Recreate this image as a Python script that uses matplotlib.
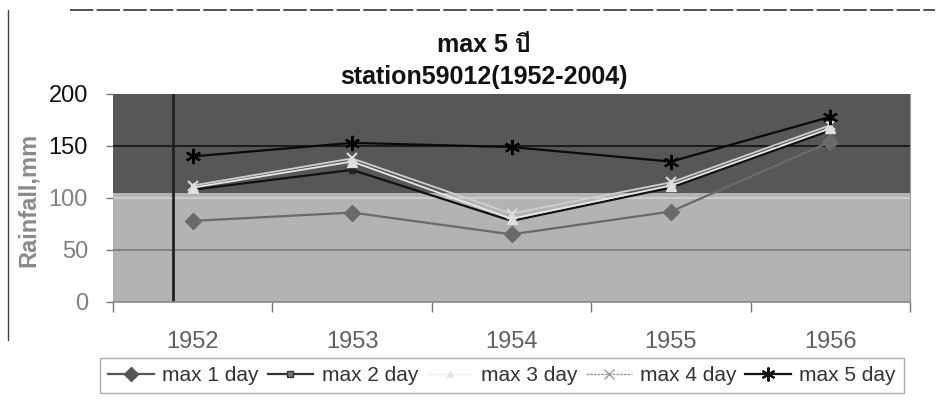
import matplotlib
matplotlib.use("Agg")
import matplotlib.pyplot as plt
from matplotlib import font_manager
from matplotlib.ft2font import FT2Font
from matplotlib.lines import Line2D

# ---------------- data ----------------
years = ["1952", "1953", "1954", "1955", "1956"]
max1 = [78, 86, 65, 87, 154]
max2 = [108, 127, 78, 110, 165]
max3 = [110, 135, 80, 112, 167]
max4 = [112, 138, 85, 115, 170]
max5 = [140, 153, 149, 135, 178]
series_names = ["max 1 day", "max 2 day", "max 3 day", "max 4 day", "max 5 day"]
yticks = [0, 50, 100, 150, 200]
title1 = "max 5 ปี"
title2 = "station59012(1952-2004)"
ylabel = "Rainfall,mm"

# ---------------- fonts ----------------
base = "Liberation Sans"
thai_family = None
for f in font_manager.fontManager.ttflist:
    try:
        ft = FT2Font(f.fname)
        if ft.get_char_index(ord("ป")) and ft.get_char_index(ord("ี")):
            thai_family = f.name
            break
    except Exception:
        continue
fams = [base] + ([thai_family] if thai_family else []) + ["DejaVu Sans"]
plt.rcParams["font.family"] = fams

W, H = 940, 403
fig = plt.figure(figsize=(W / 100, H / 100), dpi=100)
L, R, T, B = 113, 910, 94, 302
ax = fig.add_axes([L / W, 1 - B / H, (R - L) / W, (B - T) / H])

x = list(range(len(years)))
ax.set_xlim(-0.5, len(years) - 0.5)
ax.set_ylim(0, 200)

# background bands (scanned look)
ax.axhspan(105, 200, color="#575757", zorder=0, lw=0)
ax.axhspan(0, 105, color="#b3b3b3", zorder=0, lw=0)
# gridlines
ax.axhline(150, color="#111111", lw=1.2, zorder=1)
ax.axhline(100, color="#d0d0d0", lw=1.2, zorder=1)
ax.axhline(50, color="#7a7a7a", lw=1.2, zorder=1)
# scan artifact vertical line
ax.axvline(-0.125, color="#222222", lw=2, zorder=1)

ax.plot(x, max1, color="#6a6a6a", lw=1.6, marker="D", ms=8, mfc="#6a6a6a", mec="#6a6a6a", zorder=3)
ax.plot(x, max2, color="#111111", lw=1.6, marker="s", ms=5, mfc="#222222", mec="#222222", zorder=3)
ax.plot(x, max3, color="#e6e6e6", lw=1.3, marker="^", ms=7, mfc="#e0e0e0", mec="#e0e0e0", zorder=3)
ax.plot(x, max4, color="#cfcfcf", lw=1.3, marker="x", ms=7, mec="#dddddd", mew=1.5, zorder=3)
ax.plot(x, max5, color="#0a0a0a", lw=1.6, marker=(6, 2, 0), ms=11, mec="#000000", mew=1.6, zorder=4)

# axes styling
for s in ["top", "left"]:
    ax.spines[s].set_visible(False)
ax.spines["right"].set_color("#9a9a9a")
ax.spines["bottom"].set_color("#8a8a8a")
ax.spines["bottom"].set_linewidth(1.2)

ax.set_yticks(yticks)
ax.set_yticklabels([str(v) for v in yticks], fontsize=17)
for lbl, v in zip(ax.get_yticklabels(), yticks):
    lbl.set_color("#111111" if v >= 150 else "#808080")
ax.tick_params(axis="y", length=5, width=1, color="#777777", pad=13)

ax.set_xticks(x)
ax.set_xticklabels(years, fontsize=17, color="#606060")
ax.set_xticks([i - 0.5 for i in range(len(years) + 1)], minor=True)
ax.tick_params(axis="x", which="major", length=0, pad=21)
ax.tick_params(axis="x", which="minor", length=7, width=1, color="#777777")

ax.set_ylabel(ylabel, fontsize=17, fontweight="bold", color="#8a8a8a")
ax.yaxis.set_label_coords(-0.092, 0.49)

# titles
fig.text(484 / W, 1 - 45 / H, title1, ha="center", va="center", fontsize=18, fontweight="bold", color="#111111")
fig.text(484 / W, 1 - 77 / H, title2, ha="center", va="center", fontsize=18, fontweight="bold", color="#111111")

# legend
handles = [
    Line2D([], [], color="#555555", lw=1.6, marker="D", ms=7, mfc="#555555", mec="#555555"),
    Line2D([], [], color="#333333", lw=1.6, marker="s", ms=5, mfc="#777777", mec="#333333"),
    Line2D([], [], color="#f2f2f2", lw=1.0, marker="^", ms=4, mfc="#e6e6e6", mec="#e6e6e6"),
    Line2D([], [], color="#888888", lw=0.9, ls=(0, (2, 1)), marker="x", ms=7, mec="#999999"),
    Line2D([], [], color="#111111", lw=1.6, marker=(6, 2, 0), ms=10, mec="#111111", mew=1.5),
]
leg = fig.legend(handles, series_names, loc="center", ncol=5,
                 bbox_to_anchor=(100 / W, 1 - 398 / H, 804 / W, 45 / H), mode="expand",
                 fontsize=15, frameon=True, fancybox=False, handlelength=2.2,
                 handletextpad=0.4, columnspacing=0.8, borderaxespad=0)
leg.get_frame().set_edgecolor("#999999")
leg.get_frame().set_linewidth(1.0)
for t in leg.get_texts():
    t.set_color("#333333")

# chart border (scan)
fig.add_artist(Line2D([70 / W, 935 / W], [1 - 10 / H, 1 - 10 / H], color="#333333", lw=1.2, ls=(0, (14, 2))))
fig.add_artist(Line2D([8 / W, 8 / W], [1 - 10 / H, 1 - 340 / H], color="#444444", lw=1.0))

fig.savefig("out.png", dpi=100)
